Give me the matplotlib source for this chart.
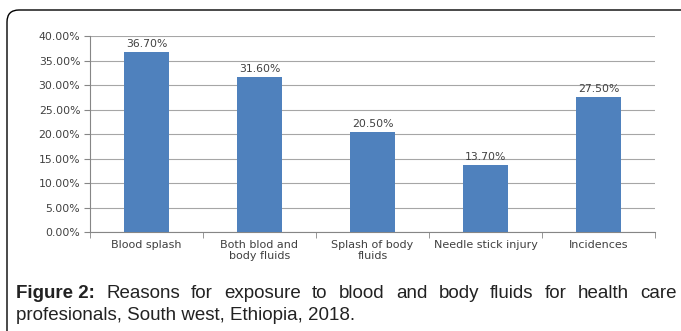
import matplotlib.pyplot as plt
import numpy as np
from matplotlib.patches import FancyBboxPatch

categories = ["Blood splash", "Both blod and\nbody fluids", "Splash of body\nfluids",
              "Needle stick injury", "Incidences"]
values = [36.70, 31.60, 20.50, 13.70, 27.50]
y_ticks = [0, 5, 10, 15, 20, 25, 30, 35, 40]

caption_bold = "Figure 2:"
caption_line1 = "Reasons for exposure to blood and body fluids for health care"
caption_line2 = "profesionals, South west, Ethiopia, 2018."

W, H = 681, 331
fig = plt.figure(figsize=(W / 100, H / 100), dpi=100)

# rounded frame around chart and caption
frame = FancyBboxPatch((0.07, -0.5), 7.5, 3.21 + 0.5,
                       boxstyle="round,pad=0,rounding_size=0.12",
                       transform=fig.dpi_scale_trans, facecolor="none",
                       edgecolor="black", linewidth=1.0, zorder=0)
fig.patches.append(frame)

txt_col = "#404040"
ax = fig.add_axes([90 / W, 1 - 232 / H, 565 / W, 196 / H])
ax.set_facecolor("none")
x = np.arange(len(categories))
bars = ax.bar(x, values, width=0.4, color="#4F81BD", zorder=3)
for xi, v in zip(x, values):
    ax.text(xi, v + 0.6, f"{v:.2f}%", ha="center", va="bottom", fontsize=7.8, color=txt_col)

ax.set_xlim(-0.5, len(categories) - 0.5)
ax.set_ylim(0, 40)
ax.set_yticks(y_ticks)
ax.set_yticklabels([f"{t:.2f}%" for t in y_ticks], fontsize=7.8, color=txt_col)
ax.yaxis.grid(True, color="#A6A6A6", linewidth=0.8, zorder=0)
ax.set_axisbelow(True)

ax.set_xticks(x)
ax.set_xticklabels(categories, fontsize=8, color=txt_col, linespacing=1.05)
ax.tick_params(axis="x", length=0, pad=6)
ax.set_xticks(np.arange(-0.5, len(categories)), minor=True)
ax.tick_params(axis="x", which="minor", length=4, color="#868686")
ax.tick_params(axis="y", length=4, color="#868686", pad=3)

for side in ["top", "right"]:
    ax.spines[side].set_visible(False)
ax.spines["left"].set_color("#868686")
ax.spines["bottom"].set_color("#868686")

# caption, first line justified across the width
fig.canvas.draw()
renderer = fig.canvas.get_renderer()
font = dict(family="Liberation Sans", fontsize=13.5, color="#222222")
words = [(caption_bold, "bold")] + [(w, "normal") for w in caption_line1.split()]
texts = []
total = 0
for w, wt in words:
    t = fig.text(0, 0, w, fontweight=wt, **font)
    bb = t.get_window_extent(renderer)
    texts.append((t, bb.width))
    total += bb.width
x0, x1 = 16, 677
gap = (x1 - x0 - total) / (len(words) - 1)
cur = x0
y1 = 1 - 298 / H
for t, wdt in texts:
    t.set_position((cur / W, y1))
    t.set_va("baseline")
    cur += wdt + gap

fig.text(x0 / W, 1 - 320 / H, caption_line2, va="baseline", **font)

fig.savefig("out.png", dpi=100)
